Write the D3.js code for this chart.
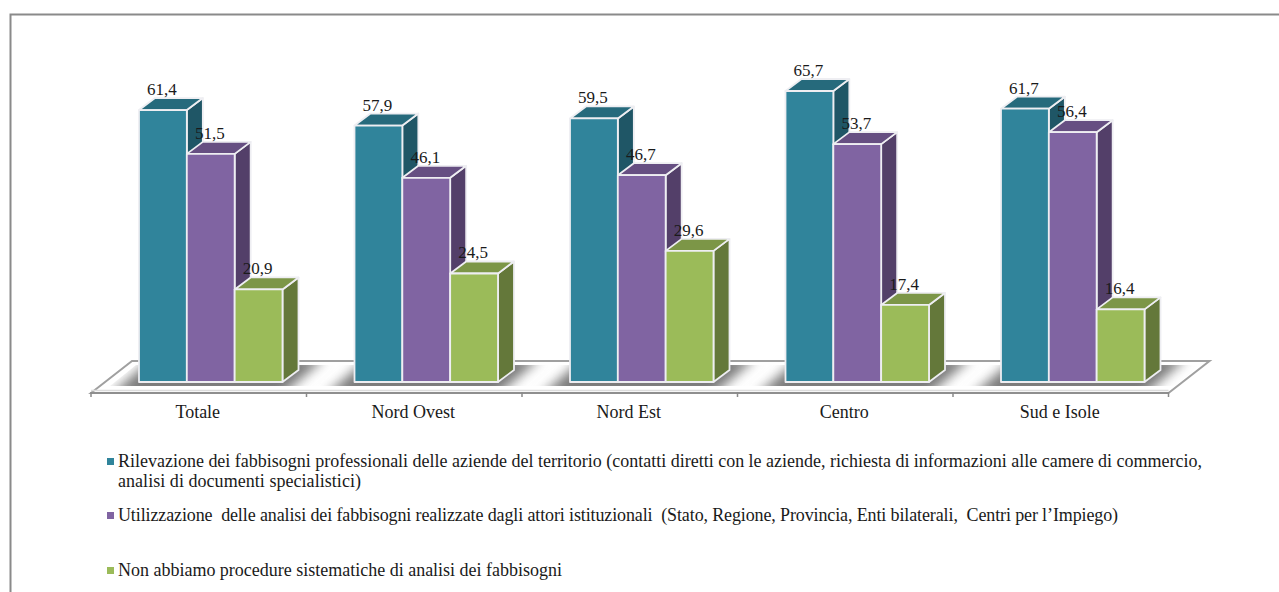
<!DOCTYPE html>
<html>
<head>
<meta charset="utf-8">
<script src="https://cdnjs.cloudflare.com/ajax/libs/d3/7.8.5/d3.min.js"></script>
<style>
  html, body { margin: 0; padding: 0; background: #fff; overflow: hidden; }
  text { font-family: "Liberation Serif", serif; fill: #1a1a1a; }
</style>
</head>
<body>
<script>
const categories = ['Totale', 'Nord Ovest', 'Nord Est', 'Centro', 'Sud e Isole'];
const seriesNames = ['rilevazione', 'utilizzazione', 'nessuna'];
const rilevazione = [61.4, 57.9, 59.5, 65.7, 61.7];
const utilizzazione = [51.5, 46.1, 46.7, 53.7, 56.4];
const nessuna = [20.9, 24.5, 29.6, 17.4, 16.4];
const frontColors = ['#30849b', '#8064a2', '#9bbb59'];
const topColors = ['#266a7c', '#664f82', '#7c9647'];
const sideColors = ['#1f5666', '#533f69', '#64783a'];
const legendLines = [
  ['Rilevazione dei fabbisogni professionali delle aziende del territorio (contatti diretti con le aziende, richiesta di informazioni alle camere di commercio,',
   'analisi di documenti specialistici)'],
  ['Utilizzazione  delle analisi dei fabbisogni realizzate dagli attori istituzionali  (Stato, Regione, Provincia, Enti bilaterali,  Centri per l\u2019Impiego)'],
  ['Non abbiamo procedure sistematiche di analisi dei fabbisogni']
];
const legendWidths = [[1084, 243], [1000], [444]];
const legendY = [467, 521, 576];

const width = 1279;
const height = 592;
const depthX = 16;
const depthY = 12;
const baseY = 382;

const values = [rilevazione, utilizzazione, nessuna];

const svg = d3.select('body')
  .append('svg')
    .attr('width', width)
    .attr('height', height)
    .style('display', 'block');

const defs = svg.append('defs');
defs.append('filter')
    .attr('id', 'soft')
    .attr('x', '-30%').attr('width', '160%')
    .attr('y', '-100%').attr('height', '300%')
  .append('feGaussianBlur')
    .attr('stdDeviation', 6);
defs.append('clipPath')
    .attr('id', 'floor-clip')
  .append('polygon')
    .attr('points', [[110, 386], [136, 365], [1201, 365], [1175, 386]].join(' '));

// outer frame, only top and left are in view
svg.append('path')
    .attr('d', `M10.5,${height} V14.5 H${width}`)
    .attr('fill', 'none')
    .attr('stroke', '#8a8a8a')
    .attr('stroke-width', 2);

const xScale = d3.scaleBand()
  .domain(categories)
  .range([91, 1168.5]);
const barScale = d3.scaleBand()
  .domain(seriesNames)
  .range([48, 191.5]);
const yScale = d3.scaleLinear()
  .domain([0, 65.7])
  .range([baseY, 91]);

// floor
const floorBack = 361;
const floorFront = 393;
const floorDepth = 41;
svg.append('polygon')
    .attr('points', [[91, floorFront], [91 + floorDepth, floorBack], [1168.5 + floorDepth, floorBack], [1168.5, floorFront]].join(' '))
    .attr('fill', '#fff')
    .attr('stroke', '#a0a0a0')
    .attr('stroke-width', 2);

// soft shadow round every group of bars, slanted like the floor
svg.append('g')
    .attr('clip-path', 'url(#floor-clip)')
  .selectAll('polygon')
  .data(categories)
  .enter()
  .append('polygon')
    .attr('fill', '#7a7a7a')
    .attr('filter', 'url(#soft)')
    .attr('points', d => {
      const x0 = xScale(d);
      return [[x0 + 18, 396], [x0 + 62, 358], [x0 + 234, 358], [x0 + 190, 396]].join(' ');
    });

svg.append('line')
    .attr('x1', 91).attr('x2', 1168.5)
    .attr('y1', floorFront - 2.5).attr('y2', floorFront - 2.5)
    .attr('stroke', '#dcdcdc')
    .attr('stroke-width', 1.5);
svg.append('line')
    .attr('x1', 91).attr('x2', 1168.5)
    .attr('y1', floorFront).attr('y2', floorFront)
    .attr('stroke', '#8f8f8f')
    .attr('stroke-width', 2);

// axis
const axis = svg.append('g')
    .attr('transform', `translate(0,${floorFront})`)
    .call(d3.axisBottom(xScale).tickSize(0).tickPadding(12));
axis.select('.domain').remove();
axis.selectAll('text')
    .attr('font-size', 18)
    .attr('dx', -1)
    .style('font-family', '"Liberation Serif", serif')
    .attr('fill', '#1a1a1a');
svg.append('g')
  .selectAll('line')
  .data(d3.range(categories.length + 1))
  .enter()
  .append('line')
    .attr('x1', i => 91 + i * xScale.step())
    .attr('x2', i => 91 + i * xScale.step())
    .attr('y1', floorFront - 1)
    .attr('y2', floorFront + 4)
    .attr('stroke', '#8a8a8a')
    .attr('stroke-width', 1.5);

// bars, drawn group by group, back to front
const bars = [];
categories.forEach((c, i) => {
  seriesNames.forEach((s, j) => {
    bars.push({ c, s, j, v: values[j][i] });
  });
});

const bar = svg.append('g')
  .selectAll('g')
  .data(bars)
  .enter()
  .append('g')
    .attr('stroke', '#eeeef2')
    .attr('stroke-width', 1.8)
    .attr('stroke-linejoin', 'round');

const left = d => xScale(d.c) + barScale(d.s);
const right = d => left(d) + barScale.bandwidth();

bar.append('polygon')
    .attr('fill', d => sideColors[d.j])
    .attr('points', d => [
      [right(d), yScale(d.v)],
      [right(d) + depthX, yScale(d.v) - depthY],
      [right(d) + depthX, baseY - depthY],
      [right(d), baseY]
    ].join(' '));
bar.append('polygon')
    .attr('fill', d => topColors[d.j])
    .attr('points', d => [
      [left(d), yScale(d.v)],
      [left(d) + depthX, yScale(d.v) - depthY],
      [right(d) + depthX, yScale(d.v) - depthY],
      [right(d), yScale(d.v)]
    ].join(' '));
bar.append('rect')
    .attr('fill', d => frontColors[d.j])
    .attr('x', left)
    .attr('y', d => yScale(d.v))
    .attr('width', barScale.bandwidth())
    .attr('height', d => baseY - yScale(d.v));

// value labels on top of all the bars
svg.append('g')
  .selectAll('text')
  .data(bars)
  .enter()
  .append('text')
    .attr('x', d => left(d) + barScale.bandwidth() / 2 - 1)
    .attr('y', d => yScale(d.v) - 15)
    .attr('text-anchor', 'middle')
    .attr('font-size', 17)
    .text(d => d.v.toFixed(1).replace('.', ','));

// legend
const legend = svg.append('g')
  .selectAll('g')
  .data(legendLines)
  .enter()
  .append('g');
legend.append('rect')
    .attr('x', 107)
    .attr('y', (d, i) => legendY[i] - 9)
    .attr('width', 7)
    .attr('height', 7)
    .attr('fill', (d, i) => frontColors[i]);
legend.selectAll('text')
  .data((d, i) => d.map((t, k) => ({ t, y: legendY[i] + k * 20, w: legendWidths[i][k] })))
  .enter()
  .append('text')
    .attr('x', 118)
    .attr('y', d => d.y)
    .attr('font-size', 18)
    .attr('textLength', d => d.w)
    .attr('lengthAdjust', 'spacing')
    .style('white-space', 'pre')
    .text(d => d.t);
</script>
</body>
</html>
